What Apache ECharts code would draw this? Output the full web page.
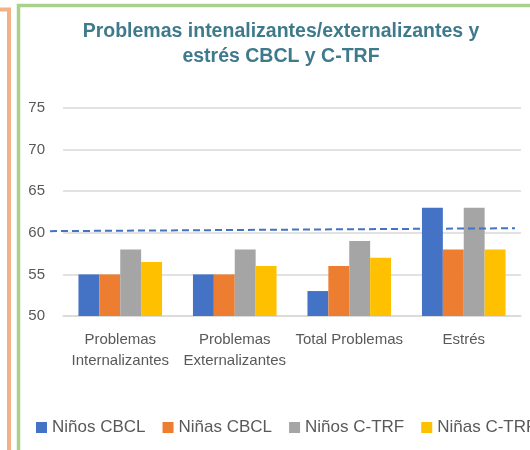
<!DOCTYPE html>
<html>

	<head>
		<meta charset="utf-8">
		<title>ECharts</title>
		<script src="https://cdn.jsdelivr.net/npm/echarts@6/dist/echarts.min.js" type="text/javascript" charset="utf-8"></script>
		<style>
			html, body { margin: 0; padding: 0; background: #fff; }
		</style>
	</head>

	<body>
		<div id="main" style="width: 530px;height:450px;"></div>
		<script type="text/javascript">
			// categorías y series
			const categories = ['Problemas\nInternalizantes', 'Problemas\nExternalizantes', 'Total Problemas', 'Estrés'];
			const ninosCBCL = [55, 55, 53, 63];
			const ninasCBCL = [55, 55, 56, 58];
			const ninosCTRF = [58, 58, 59, 63];
			const ninasCTRF = [56.5, 56, 57, 58];
			const yTicks = [50, 55, 60, 65, 70, 75];
			// línea de corte discontinua (inicio/fin, valor)
			const cutX = [0, 1];
			const cutY = [60.2, 60.55];

			const colors = ['#4472C4', '#ED7D31', '#A5A5A5', '#FFC000'];
			const font = 'Liberation Sans, Arial, sans-serif';

			let myChart = echarts.init(document.getElementById('main'));

			const mkBar = (name, data, i) => ({
				name: name,
				type: 'bar',
				data: data,
				barGap: '0%',
				barCategoryGap: '27%',
				itemStyle: { color: colors[i] },
				z: 2
			});

			myChart.setOption({
				animation: false,
				textStyle: { fontFamily: font },
				graphic: [
					{
						type: 'rect',
						shape: { x: -20, y: 9.5, width: 29, height: 470 },
						style: { fill: 'none', stroke: '#F4B183', lineWidth: 4 },
						silent: true
					},
					{
						type: 'rect',
						shape: { x: 18.5, y: 5.5, width: 540, height: 470 },
						style: { fill: 'none', stroke: '#A9D18E', lineWidth: 3.5 },
						silent: true
					}
				],
				title: {
					text: 'Problemas intenalizantes/externalizantes y\nestrés CBCL y C-TRF',
					left: 276,
					top: 14,
					textAlign: 'center',
					textStyle: {
						fontFamily: font,
						fontSize: 19.5,
						fontWeight: 'bold',
						color: '#3F7A8C',
						lineHeight: 25
					}
				},
				legend: {
					data: ['Niños CBCL', 'Niñas CBCL', 'Niños C-TRF', 'Niñas C-TRF'],
					left: 36,
					top: 419,
					padding: 0,
					width: 1000,
					itemWidth: 11,
					itemHeight: 11,
					itemGap: 17,
					icon: 'rect',
					textStyle: { fontFamily: font, fontSize: 17, color: '#595959' }
				},
				grid: [
					{ left: 63, right: 9, top: 108, bottom: 134, containLabel: false },
					// rejilla auxiliar para la línea discontinua (más ancha que la del gráfico)
					{ left: 50, right: 15, top: 108, bottom: 134, containLabel: false }
				],
				xAxis: [
					{
						type: 'category',
						data: categories,
						axisLine: { show: true, lineStyle: { color: '#D9D9D9', width: 1.5 } },
						axisTick: { show: false },
						axisLabel: { fontFamily: font, fontSize: 15, color: '#595959', lineHeight: 21, margin: 13, interval: 0 }
					},
					{
						type: 'value',
						gridIndex: 1,
						min: 0,
						max: 1,
						show: false
					}
				],
				yAxis: [
					{
						type: 'value',
						min: yTicks[0],
						max: yTicks[yTicks.length - 1],
						interval: 5,
						axisLine: { show: false },
						axisTick: { show: false },
						axisLabel: { fontFamily: font, fontSize: 15, color: '#595959', margin: 18 },
						splitLine: { lineStyle: { color: '#D9D9D9', width: 1.5 } }
					},
					{
						type: 'value',
						gridIndex: 1,
						min: yTicks[0],
						max: yTicks[yTicks.length - 1],
						show: false
					}
				],
				series: [
					mkBar('Niños CBCL', ninosCBCL, 0),
					mkBar('Niñas CBCL', ninasCBCL, 1),
					mkBar('Niños C-TRF', ninosCTRF, 2),
					mkBar('Niñas C-TRF', ninasCTRF, 3),
					{
						name: 'corte',
						type: 'line',
						xAxisIndex: 1,
						yAxisIndex: 1,
						data: cutX.map((x, i) => [x, cutY[i]]),
						showSymbol: false,
						symbol: 'none',
						lineStyle: { color: '#4472C4', width: 2, type: [7, 4] },
						z: 5
					}
				]
			});
		</script>
	</body>

</html>
